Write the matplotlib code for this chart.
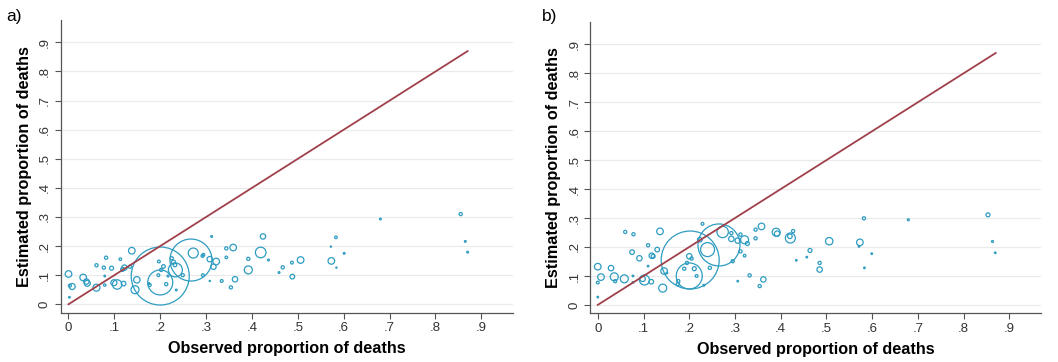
import matplotlib
matplotlib.use("Agg")
import matplotlib.pyplot as plt
import numpy as np

plt.rcParams['font.family'] = ['Liberation Sans', 'DejaVu Sans']

# ---------------- data ----------------
ticks = [0, .1, .2, .3, .4, .5, .6, .7, .8, .9]
tick_labels = ["0", ".1", ".2", ".3", ".4", ".5", ".6", ".7", ".8", ".9"]
line_x = [0.0, 0.87]
line_y = [0.0, 0.87]

# panel a: observed, estimated, marker radius (weight)
a_obs = [0.000, 0.003, 0.008, 0.002, 0.032, 0.039, 0.041, 0.061, 0.061, 0.077,
         0.082, 0.079, 0.079, 0.094, 0.106, 0.099, 0.113, 0.118, 0.122, 0.120,
         0.138, 0.134, 0.149, 0.145, 0.177, 0.175, 0.200, 0.200, 0.267, 0.272,
         0.233, 0.197, 0.202, 0.207, 0.196, 0.213, 0.217, 0.225, 0.229, 0.232,
         0.235, 0.249, 0.292, 0.293, 0.294, 0.308, 0.312, 0.316, 0.322, 0.308,
         0.334, 0.344, 0.344, 0.354, 0.359, 0.363, 0.392, 0.392, 0.424, 0.419,
         0.436, 0.459, 0.467, 0.487, 0.488, 0.506, 0.572, 0.573, 0.583, 0.584,
         0.601, 0.680, 0.855, 0.865, 0.870]
a_est = [0.104, 0.064, 0.061, 0.024, 0.092, 0.078, 0.072, 0.057, 0.134, 0.126,
         0.160, 0.097, 0.066, 0.124, 0.068, 0.074, 0.155, 0.120, 0.126, 0.071,
         0.184, 0.129, 0.084, 0.050, 0.066, 0.071, 0.097, 0.075, 0.152, 0.176,
         0.118, 0.147, 0.118, 0.130, 0.100, 0.069, 0.097, 0.158, 0.145, 0.135,
         0.049, 0.100, 0.166, 0.100, 0.170, 0.155, 0.233, 0.129, 0.147, 0.080,
         0.080, 0.192, 0.161, 0.058, 0.195, 0.086, 0.156, 0.118, 0.233, 0.178,
         0.152, 0.109, 0.127, 0.143, 0.095, 0.152, 0.198, 0.149, 0.230, 0.126,
         0.175, 0.293, 0.310, 0.216, 0.179]
a_wt = [3.3, 1.5, 3.0, 0.8, 3.3, 2.7, 3.0, 3.5, 1.6, 1.6,
        1.6, 0.8, 1.2, 2.0, 4.7, 3.0, 1.3, 2.0, 2.7, 2.3,
        3.3, 1.6, 3.2, 4.0, 1.5, 1.0, 29.0, 12.5, 21.0, 5.0,
        7.0, 1.4, 1.6, 1.8, 1.4, 1.6, 1.0, 1.6, 2.0, 1.8,
        0.9, 1.6, 1.4, 1.4, 1.4, 2.7, 0.9, 2.7, 3.3, 0.6,
        1.4, 1.6, 1.3, 1.6, 3.3, 2.7, 1.6, 4.0, 2.7, 5.3,
        0.9, 0.9, 1.6, 1.4, 2.3, 3.3, 0.6, 3.3, 1.3, 0.6,
        0.9, 0.9, 1.6, 0.9, 0.9]

# panel b
b_obs = [0.000, 0.000, 0.000, 0.007, 0.029, 0.036, 0.038, 0.058, 0.060, 0.078,
         0.075, 0.077, 0.077, 0.091, 0.102, 0.098, 0.110, 0.110, 0.118, 0.121,
         0.117, 0.130, 0.136, 0.145, 0.142, 0.151, 0.176, 0.202, 0.200, 0.265,
         0.273, 0.240, 0.195, 0.200, 0.205, 0.189, 0.211, 0.216, 0.175, 0.229,
         0.223, 0.245, 0.232, 0.292, 0.292, 0.295, 0.306, 0.312, 0.312, 0.321,
         0.327, 0.321, 0.306, 0.332, 0.345, 0.345, 0.358, 0.354, 0.362, 0.390,
         0.392, 0.421, 0.420, 0.427, 0.434, 0.457, 0.464, 0.485, 0.485, 0.506,
         0.573, 0.571, 0.582, 0.583, 0.599, 0.679, 0.853, 0.863, 0.869]
b_est = [0.132, 0.077, 0.027, 0.096, 0.127, 0.097, 0.082, 0.090, 0.252, 0.244,
         0.182, 0.100, 0.078, 0.161, 0.086, 0.090, 0.206, 0.134, 0.170, 0.168,
         0.080, 0.191, 0.254, 0.117, 0.058, 0.110, 0.082, 0.155, 0.100, 0.207,
         0.252, 0.191, 0.145, 0.168, 0.160, 0.125, 0.125, 0.100, 0.072, 0.280,
         0.225, 0.128, 0.068, 0.248, 0.228, 0.151, 0.222, 0.243, 0.185, 0.225,
         0.212, 0.170, 0.082, 0.102, 0.260, 0.230, 0.271, 0.065, 0.088, 0.251,
         0.246, 0.231, 0.237, 0.255, 0.154, 0.165, 0.188, 0.145, 0.122, 0.220,
         0.216, 0.202, 0.299, 0.128, 0.177, 0.294, 0.311, 0.219, 0.180]
b_wt = [3.3, 1.4, 0.8, 3.3, 2.7, 4.0, 1.6, 4.0, 1.6, 1.6,
        2.3, 0.8, 0.8, 2.7, 5.0, 2.7, 1.6, 0.8, 2.7, 2.0,
        2.3, 2.3, 3.3, 3.3, 4.0, 0.8, 1.6, 29.0, 13.0, 21.0,
        5.7, 7.0, 1.6, 2.7, 1.6, 1.6, 2.0, 1.4, 1.6, 1.4,
        2.3, 1.6, 0.9, 1.6, 2.7, 1.6, 2.7, 1.6, 1.6, 4.0,
        2.0, 1.3, 0.8, 1.6, 1.6, 1.6, 3.3, 1.6, 2.7, 4.0,
        2.7, 5.0, 2.3, 1.6, 0.8, 0.8, 2.0, 1.6, 2.7, 3.7,
        3.3, 0.8, 1.6, 0.8, 0.8, 1.0, 2.0, 1.0, 0.8]

panels = [("a)", a_obs, a_est, a_wt), ("b)", b_obs, b_est, b_wt)]

# ---------------- drawing ----------------
W, H = 1058, 362
fig = plt.figure(figsize=(W / 100, H / 100), dpi=100)

axes_px = [(60.7, 20, 513, 312.7), (590, 22, 1041, 313.3)]
label_px = [(6, 16), (542, 16)]

circ_color = '#2e9cc1'
line_color = '#a0404b'

for (lab, xo, ye, wt), (l, t, r, b), (lx, ly) in zip(panels, axes_px, label_px):
    ax = fig.add_axes([l / W, 1 - b / H, (r - l) / W, (b - t) / H])
    ax.set_xlim(-0.017, 0.969)
    ax.set_ylim(-0.029, 0.977)
    for yv in ticks:
        ax.axhline(yv, color='#ebebeb', lw=0.9, zorder=0)
    ax.plot(line_x, line_y, color=line_color, lw=1.3, zorder=3)
    rad = np.array(wt)
    sizes = (2 * rad * 72 / 100) ** 2
    ax.scatter(xo, ye, s=sizes, facecolors='none', edgecolors=circ_color,
               linewidths=0.9, zorder=2)
    ax.set_xticks(ticks)
    ax.set_xticklabels(tick_labels)
    ax.set_yticks(ticks)
    ax.set_yticklabels(tick_labels, rotation=90, va='center')
    ax.tick_params(axis='both', direction='out', length=4, width=0.8,
                   color='#555555', labelcolor='#333333', labelsize=9.5, pad=3)
    for s in ['top', 'right']:
        ax.spines[s].set_visible(False)
    for s in ['left', 'bottom']:
        ax.spines[s].set_color('#555555')
        ax.spines[s].set_linewidth(0.9)
    ax.set_xlabel("Observed proportion of deaths", fontsize=11.7,
                  fontweight='bold', labelpad=5)
    ax.set_ylabel("Estimated proportion of deaths", fontsize=11.7,
                  fontweight='bold', labelpad=5)
    fig.text(lx / W, 1 - ly / H, lab, fontsize=12.5, va='center', ha='left')

fig.savefig("out.png", dpi=100)
